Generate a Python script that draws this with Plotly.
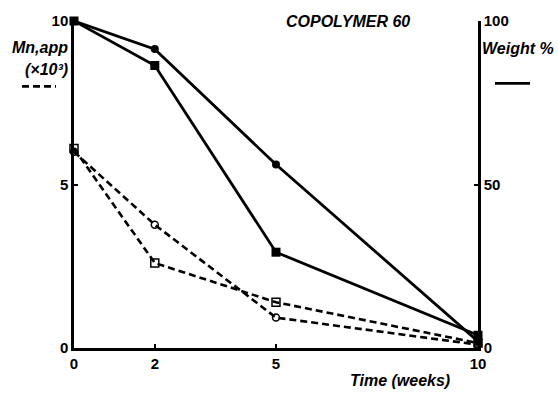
import plotly.graph_objects as go

# Data
time_weeks = [0, 2, 5, 10]
mn_square = [6.1, 2.6, 1.4, 0.15]     # Mn,app (x10^3), open squares, dashed
mn_circle = [6.0, 3.77, 0.93, 0.1]    # Mn,app (x10^3), open circles, dashed
wt_circle = [100, 91.4, 56.1, 2.0]    # Weight %, filled circles, solid
wt_square = [100, 86.4, 29.3, 3.9]    # Weight %, filled squares, solid

x_ticks = [0, 2, 5, 10]
y_left_ticks = [0, 5, 10]
y_right_ticks = [0, 50, 100]

W, H = 558, 395
L, R, T, B = 74, 478, 13, 348

def px(xp):
    return (xp - L) / (R - L)

def py(yp):
    return (B - yp) / (B - T)

fig = go.Figure()

fig.add_trace(go.Scatter(
    x=time_weeks, y=wt_circle, mode="lines+markers", yaxis="y2",
    line=dict(color="black", width=2.8),
    marker=dict(symbol="circle", size=8, color="black"),
    cliponaxis=False, showlegend=False))
fig.add_trace(go.Scatter(
    x=time_weeks, y=wt_square, mode="lines+markers", yaxis="y2",
    line=dict(color="black", width=2.8),
    marker=dict(symbol="square", size=9, color="black"),
    cliponaxis=False, showlegend=False))
fig.add_trace(go.Scatter(
    x=time_weeks, y=mn_square, mode="lines+markers",
    line=dict(color="black", width=2.6, dash="7px,4px"),
    marker=dict(symbol="square-open", size=8, color="black", line=dict(width=1.5)),
    cliponaxis=False, showlegend=False))
fig.add_trace(go.Scatter(
    x=time_weeks, y=mn_circle, mode="lines+markers",
    line=dict(color="black", width=2.6, dash="7px,4px"),
    marker=dict(symbol="circle-open", size=7, color="black", line=dict(width=1.5)),
    cliponaxis=False, showlegend=False))

tick_font = dict(family="Liberation Sans, Arial, sans-serif", size=15, color="black", weight="bold")
lab_font = dict(family="Liberation Sans, Arial, sans-serif", size=16, color="black", weight="bold", style="italic")

fig.update_layout(
    width=W, height=H,
    margin=dict(l=L, r=W - R, t=T, b=H - B, pad=0),
    paper_bgcolor="white", plot_bgcolor="white",
    xaxis=dict(range=[0, 10], tickvals=x_ticks, ticks="inside", ticklen=4,
               tickwidth=1.5, tickcolor="black", showline=True, linecolor="black",
               linewidth=2.5, showgrid=False, zeroline=False, tickfont=tick_font),
    yaxis=dict(range=[0, 10], tickvals=y_left_ticks, ticks="inside", ticklen=4,
               tickwidth=1.5, tickcolor="black", showline=True, linecolor="black",
               linewidth=2.5, showgrid=False, zeroline=False, tickfont=tick_font,
               ticklabelstandoff=0),
    yaxis2=dict(range=[0, 100], tickvals=y_right_ticks, ticks="inside", ticklen=4,
                tickwidth=1.5, tickcolor="black", showline=True, linecolor="black",
                linewidth=2.5, showgrid=False, zeroline=False, tickfont=tick_font,
                overlaying="y", side="right", ticklabelstandoff=0),
)

annots = [
    dict(text="COPOLYMER 60", x=px(348), y=py(14), xanchor="center", yanchor="middle"),
    dict(text="Mn,app", x=px(70), y=py(40), xanchor="right", yanchor="middle"),
    dict(text="(×10³)", x=px(70), y=py(63), xanchor="right", yanchor="middle"),
    dict(text="Weight %", x=px(480), y=py(41), xanchor="left", yanchor="middle"),
    dict(text="Time (weeks)", x=px(400), y=py(381), xanchor="center", yanchor="middle"),
]
for a in annots:
    fig.add_annotation(xref="paper", yref="paper", showarrow=False, font=lab_font, **a)

fig.add_shape(type="line", xref="paper", yref="paper", x0=px(22), x1=px(56), y0=py(80), y1=py(80),
              line=dict(color="black", width=2.8, dash="7px,4px"))
fig.add_shape(type="line", xref="paper", yref="paper", x0=px(495), x1=px(530), y0=py(77), y1=py(77),
              line=dict(color="black", width=2.8))

fig.write_html("out.html")
